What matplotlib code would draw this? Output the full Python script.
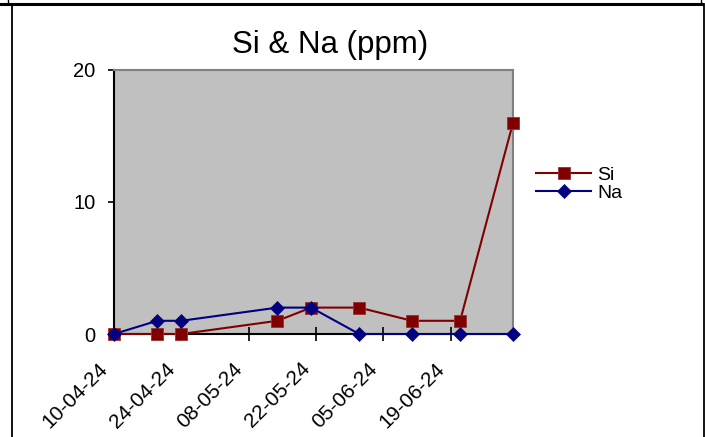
import numpy as np
import pandas as pd
import matplotlib
matplotlib.use("Agg")
import matplotlib.pyplot as plt
import matplotlib.dates as mdates
import matplotlib.transforms as mtransforms
from matplotlib.lines import Line2D

plt.rcParams['font.family'] = ['Liberation Sans', 'DejaVu Sans']

# sample dates and readings (ppm)
dates = ["2024-04-10", "2024-04-19", "2024-04-24", "2024-05-14", "2024-05-21",
         "2024-05-31", "2024-06-11", "2024-06-21", "2024-07-02"]
si = [0, 0, 0, 1, 2, 2, 1, 1, 16]
na = [0, 1, 1, 2, 2, 0, 0, 0, 0]
y_ticks = [0, 10, 20]

x = pd.to_datetime(dates)

fig = plt.figure(figsize=(7.05, 4.37), dpi=100)
ax = fig.add_axes([114 / 705, 1 - 334 / 437, 399 / 705, 264 / 437])
ax.set_facecolor("#c0c0c0")

ax.plot(x, si, color="#800000", lw=1.5, marker="s", ms=9,
        mfc="#800000", mec="#9a3030", mew=0.6, label="Si", clip_on=False, zorder=3)
ax.plot(x, na, color="#000080", lw=1.5, marker="D", ms=6.8,
        mfc="#000080", mec="#000080", mew=0.5, label="Na", clip_on=False, zorder=4)

ax.set_xlim(x[0], x[-1])
ax.set_ylim(0, 20)
ax.set_yticks(y_ticks)
ticks = pd.date_range(x[0], x[-1], freq="14D")
ax.set_xticks(ticks)
ax.xaxis.set_major_formatter(mdates.DateFormatter("%d-%m-%y"))

for s in ["top", "right"]:
    ax.spines[s].set_color("#808080")
    ax.spines[s].set_linewidth(1.5)
for s in ["left", "bottom"]:
    ax.spines[s].set_color("black")
    ax.spines[s].set_linewidth(1.5)

ax.tick_params(axis="y", direction="out", length=4.5, width=1.2, labelsize=14.5, pad=9)
ax.tick_params(axis="x", direction="inout", length=10, width=1.2, labelsize=15, pad=13)
shift = mtransforms.ScaledTranslation(-16 / 100, 0, fig.dpi_scale_trans)
for lbl in ax.get_xticklabels():
    lbl.set_rotation(45)
    lbl.set_ha("right")
    lbl.set_va("top")
    lbl.set_rotation_mode("anchor")
    lbl.set_transform(lbl.get_transform() + shift)

fig.text(330 / 705, 1 - 45 / 437, "Si & Na (ppm)", ha="center", va="center", fontsize=22.5)

fig.legend(loc="center left", bbox_to_anchor=(536 / 705, 1 - 184 / 437),
           frameon=False, fontsize=14, handlelength=2.85, handletextpad=0.3,
           labelspacing=0.02, borderpad=0, borderaxespad=0)

# outer frame lines
fig.add_artist(Line2D([0, 702 / 705], [1 - 4 / 437] * 2, color="black", lw=2.2))
fig.add_artist(Line2D([12 / 705] * 2, [0, 1 - 4 / 437], color="black", lw=1.3))
fig.add_artist(Line2D([703.5 / 705] * 2, [0, 1 - 4 / 437], color="black", lw=1.3))
fig.add_artist(Line2D([8 / 705] * 2, [1 - 4 / 437, 1], color="black", lw=1))
fig.add_artist(Line2D([700.5 / 705] * 2, [1 - 4 / 437, 1], color="black", lw=1))

fig.savefig("out.png", dpi=100)
